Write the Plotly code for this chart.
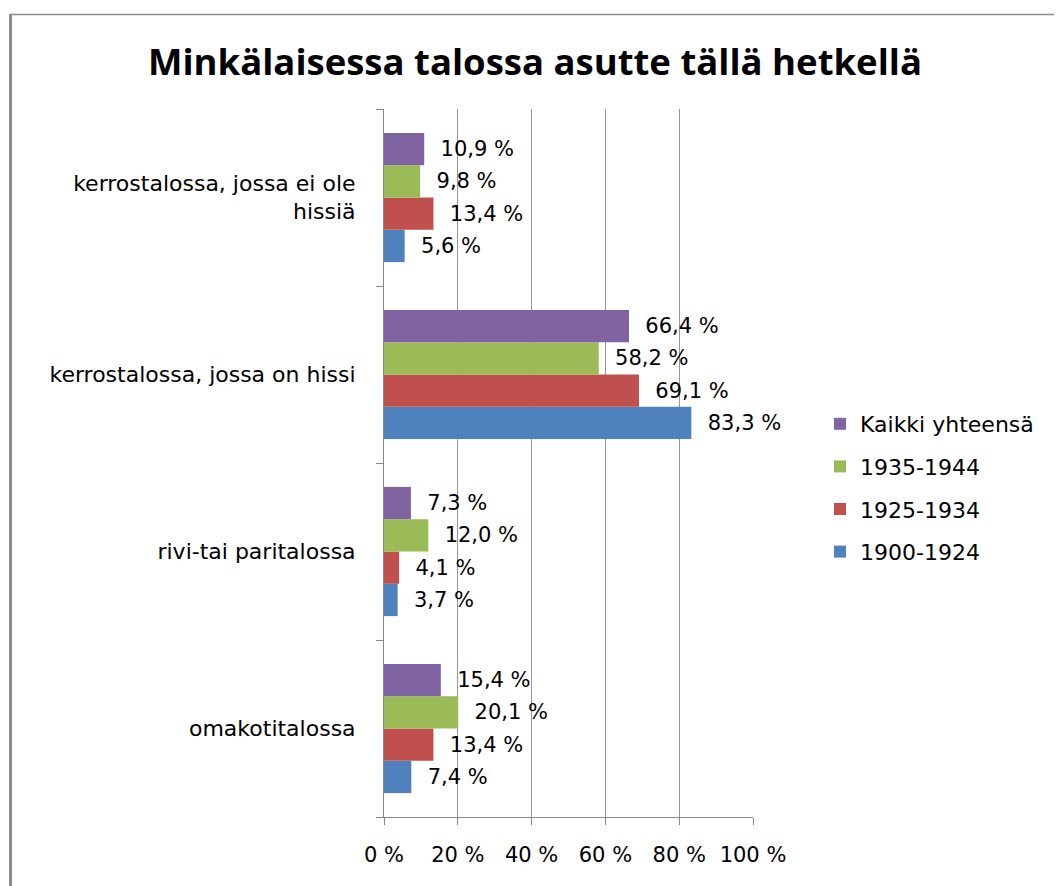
import plotly.graph_objects as go

# ---- data ----
categories = ["omakotitalossa", "rivi-tai paritalossa",
              "kerrostalossa, jossa on hissi", "kerrostalossa, jossa ei ole<br>hissiä"]
series_names = ["1900-1924", "1925-1934", "1935-1944", "Kaikki yhteensä"]
legend_ranks = [4, 3, 2, 1]
v_1900_1924 = [7.4, 3.7, 83.3, 5.6]
v_1925_1934 = [13.4, 4.1, 69.1, 13.4]
v_1935_1944 = [20.1, 12.0, 58.2, 9.8]
v_kaikki = [15.4, 7.3, 66.4, 10.9]
x_ticks = [0, 20, 40, 60, 80, 100]
title_text = "Minkälaisessa talossa asutte tällä hetkellä"

colors = ["#4F81BD", "#C0504D", "#9BBB59", "#8064A2"]
all_values = [v_1900_1924, v_1925_1934, v_1935_1944, v_kaikki]

OFF = 8  # page body margin
W, H = 1062 - OFF, 886 - OFF
L, T = 384 - OFF, 109 - OFF
PW, PH = 369, 708
R, B = W - L - PW, H - T - PH
FONT = "DejaVu Sans"
FS = 22

def fmt(v):
    return "\u00a0\u00a0" + f"{v:.1f}".replace(".", ",") + " %"

fig = go.Figure()
for name, vals, col, rk in zip(series_names, all_values, colors, legend_ranks):
    fig.add_trace(go.Bar(
        y=categories, x=vals, orientation="h", name=name,
        marker=dict(color=col, line=dict(width=0)),
        text=[fmt(v) for v in vals], textposition="outside",
        textfont=dict(family=FONT, size=21, color="#000000"),
        cliponaxis=False, constraintext="none",
        legendgroup=name, legendrank=rk,
    ))

# page pixel -> paper coordinate helpers (for decoration only)
def px(x):
    return (x - OFF - L) / PW
def py(y):
    return 1 - (y - OFF - T) / PH

fig.update_layout(
    width=W, height=H,
    margin=dict(l=L, r=R, t=T, b=B, autoexpand=False),
    paper_bgcolor="white", plot_bgcolor="white",
    barmode="group", bargap=0.27, bargroupgap=0,
    title=dict(text=title_text, x=(535 - OFF) / W, xanchor="center",
               y=1 - (62 - OFF) / H, yanchor="middle", yref="container",
               font=dict(family="Open Sans", size=36.5, color="#000000", weight="bold")),
    font=dict(family=FONT, size=FS, color="#000000"),
    legend=dict(x=px(820), xanchor="left", y=py(403), yanchor="top",
                traceorder="grouped", tracegroupgap=11,
                font=dict(family=FONT, size=FS, color="#000000"),
                itemwidth=30, bgcolor="rgba(0,0,0,0)"),
    showlegend=True,
    shapes=[
        dict(type="line", xref="paper", yref="paper", x0=px(10.5), x1=px(10.5),
             y0=py(14), y1=py(900), line=dict(color="#8c8c8c", width=3)),
        dict(type="line", xref="paper", yref="paper", x0=px(9), x1=px(1061),
             y0=py(14.5), y1=py(14.5), line=dict(color="#8c8c8c", width=1.5)),
        dict(type="line", xref="paper", yref="paper", x0=px(1060.5), x1=px(1060.5),
             y0=py(14), y1=py(900), line=dict(color="#a6a6a6", width=1.5)),
    ],
)

fig.update_xaxes(
    range=[0, 100], tickvals=x_ticks, ticktext=[f"{t} %" for t in x_ticks],
    showgrid=True, gridcolor="#969696", gridwidth=1,
    showline=True, linecolor="#868686", linewidth=1,
    ticks="outside", ticklen=7, tickcolor="#868686",
    tickfont=dict(family=FONT, size=21, color="#000000"),
    ticklabelstandoff=12,
    zeroline=False, fixedrange=True,
)
fig.update_yaxes(
    categoryorder="array", categoryarray=categories,
    showline=True, linecolor="#868686", linewidth=1,
    ticks="outside", ticklen=7, tickcolor="#868686", tickson="boundaries",
    tickfont=dict(family=FONT, size=FS, color="#000000"),
    ticklabelstandoff=23, showgrid=False, zeroline=False, fixedrange=True,
)

fig.write_html("out.html")
